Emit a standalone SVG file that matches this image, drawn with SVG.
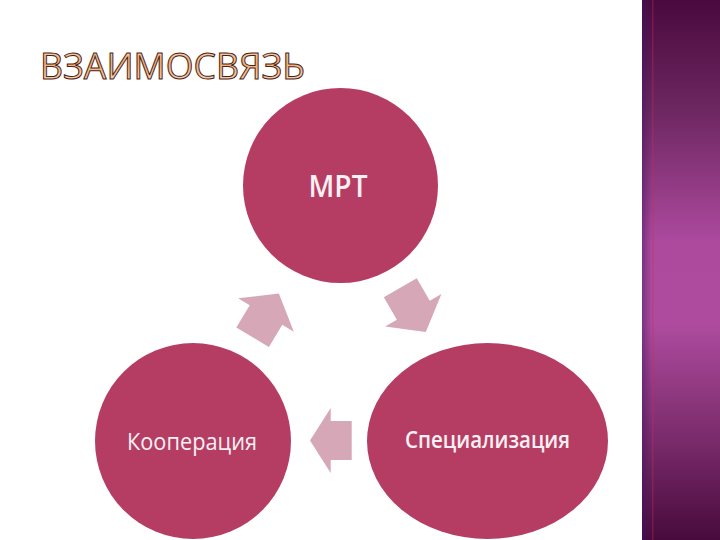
<svg xmlns="http://www.w3.org/2000/svg" xmlns:xlink="http://www.w3.org/1999/xlink" width="720" height="540" viewBox="0 0 720 540">
<defs>
<style>
.node{fill:#b53d63;}
.arrow{fill:#d5a7b7;}
.lbl{fill:#f8f0f3;font-family:"Open Sans","DejaVu Sans",sans-serif;text-anchor:middle;}
.title{font-family:"Open Sans","DejaVu Sans",sans-serif;font-size:36px;fill:url(#tg);stroke:#4a1f1c;stroke-width:1;}
</style>
<linearGradient id="tg" x1="0" y1="0" x2="0" y2="1">
<stop offset="0" stop-color="#fde6cc"/>
<stop offset="0.45" stop-color="#f5ae73"/>
<stop offset="1" stop-color="#fde3c8"/>
</linearGradient>
<linearGradient id="bar" x1="0" y1="0" x2="0" y2="1">
<stop offset="0" stop-color="#4a0a3e"/>
<stop offset="0.2" stop-color="#6c2660"/>
<stop offset="0.45" stop-color="#ad4a9e"/>
<stop offset="0.6" stop-color="#ae4b9e"/>
<stop offset="0.82" stop-color="#782a69"/>
<stop offset="1" stop-color="#480a3c"/>
</linearGradient>
<linearGradient id="edge" x1="0" y1="0" x2="1" y2="0">
<stop offset="0" stop-color="#3a1460" stop-opacity="0.45"/>
<stop offset="1" stop-color="#3a1460" stop-opacity="0"/>
</linearGradient>
<polygon id="arr" points="-26,-19 0,-19 0,-32.5 25,0 0,32.5 0,19 -26,19"/>
</defs>
<rect x="0" y="0" width="720" height="540" fill="#ffffff"/>
<g id="sidebar">
<rect x="642" y="0" width="78" height="540" fill="url(#bar)"/>
<rect x="642" y="0" width="10" height="540" fill="url(#edge)"/>
<rect x="652" y="0" width="1.5" height="540" fill="#c0305a" opacity="0.35"/>
</g>
<g id="title">
<text class="title" x="40" y="79" textLength="265" lengthAdjust="spacingAndGlyphs">ВЗАИМОСВЯЗЬ</text>
</g>
<g id="connectors">
<use xlink:href="#arr" class="arrow" transform="translate(266,315) rotate(-59)"/>
<use xlink:href="#arr" class="arrow" transform="translate(413.3,310.3) rotate(60)"/>
<polygon class="arrow" points="351.7,421 330.7,421 330.7,408 310,440.5 330.7,473 330.7,460 351.7,460"/>
</g>
<g id="node-mrt">
<circle class="node" cx="340.5" cy="185.5" r="97.5"/>
<text class="lbl" x="338" y="197" font-size="30" font-weight="600" textLength="59" lengthAdjust="spacingAndGlyphs">МРТ</text>
</g>
<g id="node-kooperatsiya">
<circle class="node" cx="193" cy="441" r="98"/>
<text class="lbl" x="192" y="450" font-size="23" textLength="130" lengthAdjust="spacingAndGlyphs">Кооперация</text>
</g>
<g id="node-spetsializatsiya">
<ellipse class="node" cx="487.5" cy="441" rx="120.5" ry="98"/>
<text class="lbl" x="487.5" y="448" font-size="23" font-weight="600" textLength="165" lengthAdjust="spacingAndGlyphs">Специализация</text>
</g>
</svg>
